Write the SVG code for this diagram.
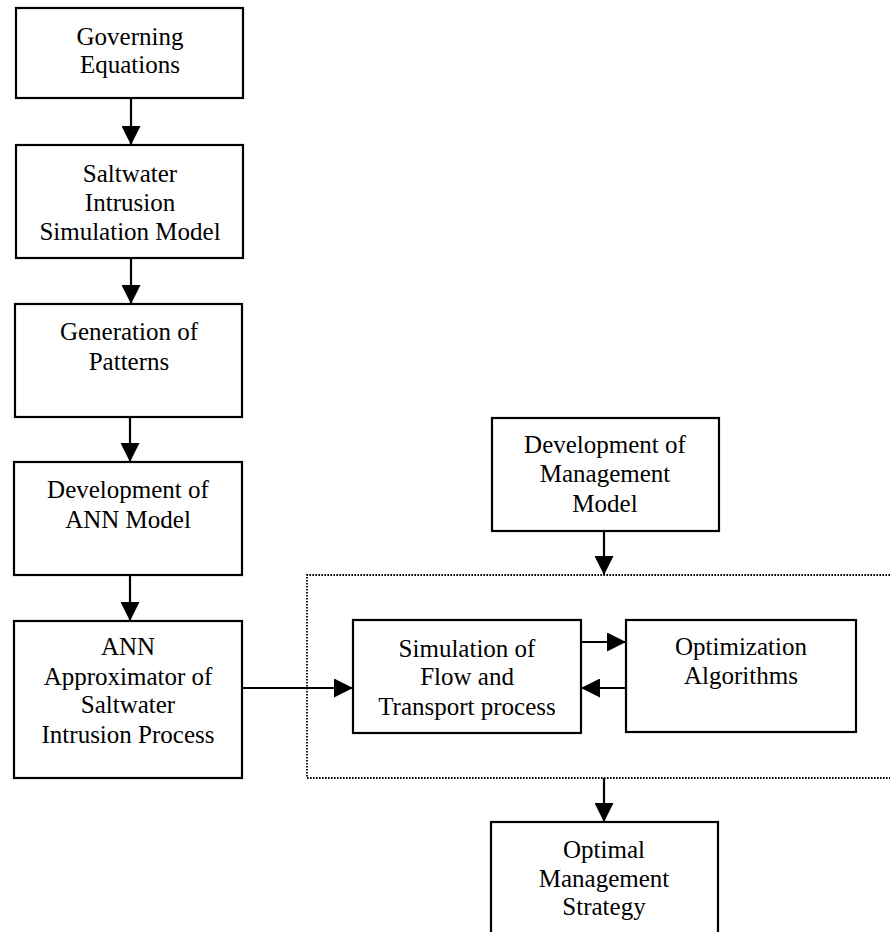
<svg xmlns="http://www.w3.org/2000/svg" width="890" height="932" viewBox="0 0 890 932">
<defs>
<marker id="ah" viewBox="0 0 19 19" refX="19" refY="9.5" markerWidth="19" markerHeight="19" orient="auto" markerUnits="userSpaceOnUse">
<path d="M0,0 L19,9.5 L0,19 Z" fill="#000"/>
</marker>
<style>
.box{fill:#fff;stroke:#000;stroke-width:2.2}
.t{font-family:"Liberation Serif","Times New Roman",serif;font-size:25px;fill:#000;text-anchor:middle}
.c{stroke:#000;stroke-width:2.2;fill:none;marker-end:url(#ah)}
.dot{stroke:#000;stroke-width:1.8;fill:none;stroke-dasharray:1.6 1.4}
</style>
</defs>
<rect width="890" height="932" fill="#fff"/>
<g id="group-boundary">
<path class="dot" d="M890,575 L307,575 L307,778 L890,778"/>
</g>
<g id="n1"><rect class="box" x="16" y="8" width="227" height="90"/>
<text class="t" x="130" y="45">Governing</text><text class="t" x="130" y="73">Equations</text></g>
<g id="n2"><rect class="box" x="16" y="145" width="227" height="113"/>
<text class="t" x="130" y="182">Saltwater</text><text class="t" x="130" y="211">Intrusion</text><text class="t" x="130" y="240">Simulation Model</text></g>
<g id="n3"><rect class="box" x="15" y="304" width="227" height="113"/>
<text class="t" x="129" y="340">Generation of</text><text class="t" x="129" y="370">Patterns</text></g>
<g id="n4"><rect class="box" x="14" y="462" width="228" height="113"/>
<text class="t" x="128" y="498">Development of</text><text class="t" x="128" y="528">ANN Model</text></g>
<g id="n5"><rect class="box" x="14" y="621" width="228" height="157"/>
<text class="t" x="128" y="655">ANN</text><text class="t" x="128" y="685">Approximator of</text><text class="t" x="128" y="713">Saltwater</text><text class="t" x="128" y="743">Intrusion Process</text></g>
<g id="n6"><rect class="box" x="353" y="620" width="228" height="113"/>
<text class="t" x="467" y="657">Simulation of</text><text class="t" x="467" y="685">Flow and</text><text class="t" x="467" y="715">Transport process</text></g>
<g id="n7"><rect class="box" x="626" y="620" width="230" height="112"/>
<text class="t" x="741" y="655">Optimization</text><text class="t" x="741" y="684">Algorithms</text></g>
<g id="n8"><rect class="box" x="492" y="418" width="227" height="113"/>
<text class="t" x="605" y="453">Development of</text><text class="t" x="605" y="482">Management</text><text class="t" x="605" y="512">Model</text></g>
<g id="n9"><rect class="box" x="491" y="822" width="227" height="130"/>
<text class="t" x="604" y="858">Optimal</text><text class="t" x="604" y="887">Management</text><text class="t" x="604" y="915">Strategy</text></g>
<g id="connectors">
<line class="c" x1="131" y1="98" x2="131" y2="145"/>
<line class="c" x1="131" y1="258" x2="131" y2="304"/>
<line class="c" x1="130" y1="417" x2="130" y2="462"/>
<line class="c" x1="130" y1="575" x2="130" y2="621"/>
<line class="c" x1="242" y1="688" x2="353" y2="688"/>
<line class="c" x1="581" y1="642" x2="626" y2="642"/>
<line class="c" x1="626" y1="688" x2="581" y2="688"/>
<line class="c" x1="604" y1="531" x2="604" y2="575"/>
<line class="c" x1="604" y1="778" x2="604" y2="822"/>
</g>
</svg>
